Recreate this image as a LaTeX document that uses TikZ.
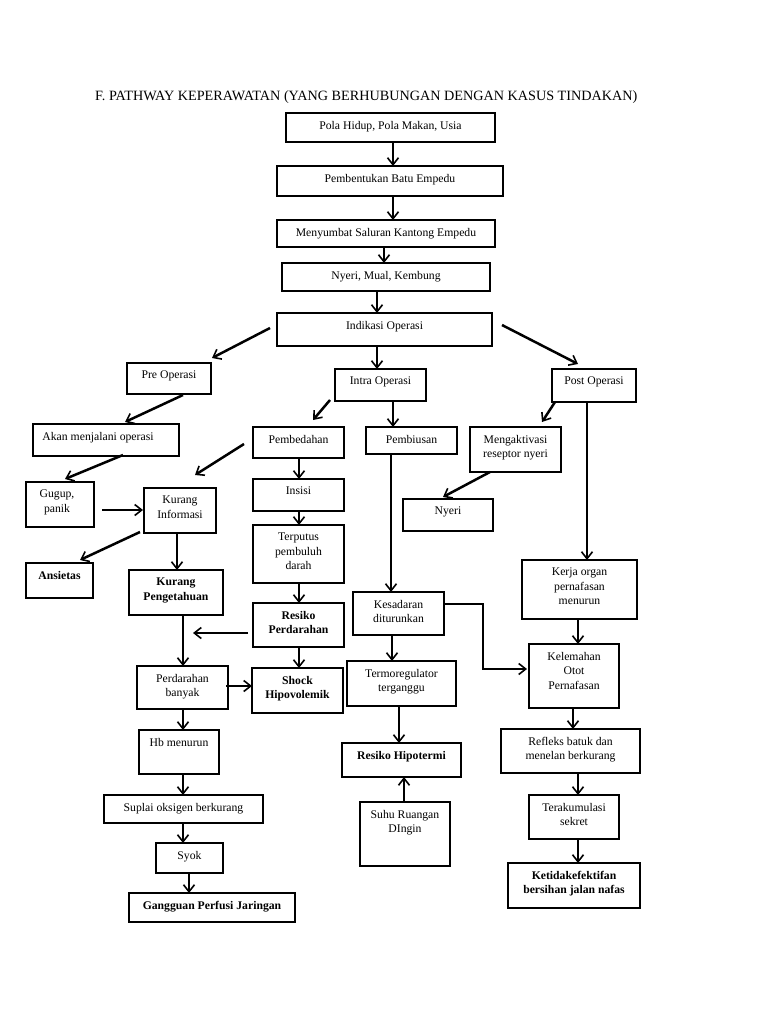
\documentclass[tikz,border=0pt]{standalone}
\usepackage{fontspec}
\setmainfont{Liberation Serif}
\usetikzlibrary{arrows.meta,calc}
\tikzset{
 box/.style={draw, line width=2.7pt, rectangle, inner sep=0pt, outer sep=0pt, anchor=north west},
 txt/.style={anchor=north, align=center, inner sep=0pt, font=\fontsize{11.7}{14.5}\selectfont},
 btxt/.style={txt, font=\fontsize{11.7}{14.5}\selectfont\bfseries},
 arr/.style={line width=2.5pt, -{Straight Barb[length=7pt,width=11pt,line width=1.6pt]}},
}
\newcommand\bx[7][txt]{%
 \node[box, minimum width={(#5-#3)*1pt}, minimum height={(#6-#4)*1pt}] (#2) at (#3,#4) {};
 \node[#1] (#2-t) at ($(#2.north)+(0,8)$) {#7};}
\newcommand\varr[3]{\draw[arr] let \p1=(#1.south), \p2=(#2.north) in (#3pt,\y1) -- (#3pt,\y2);}
\begin{document}
\begin{tikzpicture}[x=1pt,y=-1pt]
\fill[white] (0,0) rectangle (768,1024);
\useasboundingbox (0,0) rectangle (768,1024);
\node[anchor=base west, inner sep=0pt, font=\fontsize{14.2}{16}\selectfont] (title) at (95,101) {F. PATHWAY KEPERAWATAN (YANG BERHUBUNGAN DENGAN KASUS TINDAKAN)};
% boxes
\bx{pola}{286}{113}{495}{142}{Pola Hidup, Pola Makan, Usia}
\bx{pemb}{277}{166}{503}{196}{Pembentukan Batu Empedu}
\bx{meny}{277}{220}{495}{247}{Menyumbat Saluran Kantong Empedu}
\bx{nmk}{282}{263}{490}{291}{Nyeri, Mual, Kembung}
\bx{ind}{277}{313}{492}{346}{Indikasi Operasi}
\bx{pre}{127}{363}{211}{394}{Pre Operasi}
\bx{intra}{335}{369}{426}{401}{Intra Operasi}
\bx{post}{552}{369}{636}{402}{Post Operasi}
\bx[txt,xshift=-8pt]{akan}{33}{424}{179}{456}{Akan menjalani operasi}
\bx[txt,xshift=-3pt]{gugup}{26}{482}{94}{527}{Gugup,\\panik}
\bx{kurinf}{144}{488}{216}{533}{Kurang\\Informasi}
\bx[btxt]{ansietas}{26}{563}{93}{598}{Ansietas}
\bx[btxt]{kurpeng}{129}{570}{223}{615}{Kurang\\Pengetahuan}
\bx{pembedahan}{253}{427}{344}{458}{Pembedahan}
\bx{insisi}{253}{479}{344}{511}{Insisi}
\bx{terputus}{253}{525}{344}{583}{Terputus\\pembuluh\\darah}
\bx[btxt]{resiko}{253}{603}{344}{647}{Resiko\\Perdarahan}
\bx{perdban}{137}{666}{228}{709}{Perdarahan\\banyak}
\bx[btxt]{shock}{252}{668}{343}{713}{Shock\\Hipovolemik}
\bx{hb}{139}{730}{219}{774}{Hb menurun}
\bx{suplai}{104}{795}{263}{823}{Suplai oksigen berkurang}
\bx{syok}{156}{843}{223}{873}{Syok}
\bx[btxt]{gangguan}{129}{893}{295}{922}{Gangguan Perfusi Jaringan}
\bx{pembiusan}{366}{427}{457}{454}{Pembiusan}
\bx{mengakt}{470}{427}{561}{472}{Mengaktivasi\\reseptor nyeri}
\bx{nyeri}{403}{499}{493}{531}{Nyeri}
\bx{kerja}{522}{560}{637}{619}{Kerja organ\\pernafasan\\menurun}
\bx{kesadaran}{353}{592}{444}{635}{Kesadaran\\diturunkan}
\bx{termo}{347}{661}{456}{706}{Termoregulator\\terganggu}
\bx[btxt]{hipotermi}{342}{743}{461}{777}{Resiko Hipotermi}
\bx{suhu}{360}{802}{450}{866}{Suhu Ruangan\\DIngin}
\bx{kelemahan}{529}{644}{619}{708}{Kelemahan\\Otot\\Pernafasan}
\bx{refleks}{501}{729}{640}{773}{Refleks batuk dan\\menelan berkurang}
\bx{terakum}{529}{795}{619}{839}{Terakumulasi\\sekret}
\bx[btxt]{ketidak}{508}{863}{640}{908}{Ketidakefektifan\\bersihan jalan nafas}
% vertical arrows
\varr{pola}{pemb}{393}
\varr{pemb}{meny}{393}
\varr{meny}{nmk}{384}
\varr{nmk}{ind}{377}
\varr{ind}{intra}{377}
\varr{pembedahan}{insisi}{299}
\varr{insisi}{terputus}{299}
\varr{terputus}{resiko}{299}
\varr{kurinf}{kurpeng}{177}
\varr{kurpeng}{perdban}{183}
\varr{resiko}{shock}{299}
\varr{perdban}{hb}{183}
\varr{hb}{suplai}{183}
\varr{suplai}{syok}{183}
\varr{syok}{gangguan}{189}
\varr{intra}{pembiusan}{393}
\varr{pembiusan}{kesadaran}{391}
\varr{post}{kerja}{587}
\varr{kerja}{kelemahan}{578}
\varr{kesadaran}{termo}{392}
\varr{termo}{hipotermi}{399}
\varr{kelemahan}{refleks}{573}
\varr{refleks}{terakum}{578}
\varr{terakum}{ketidak}{578}
\draw[arr] let \p1=(suhu.north), \p2=(hipotermi.south) in (404pt,\y1) -- (404pt,\y2);
% diagonal and other arrows
\draw[arr] ([shift={(-7,-1.5)}]ind.west) -- ([shift={(1,-5)}]pre.north east);
\draw[arr] ([shift={(10,-4.5)}]ind.east) -- ([shift={(-16,-5)}]post.north);
\draw[arr] ([shift={(14,1)}]pre.south) -- ([shift={(19,-2)}]akan.north);
\draw[arr] ([shift={(17,-1)}]akan.south) -- ([shift={(5,-3)}]gugup.north);
\draw[arr] ([shift={(8,5.5)}]gugup.east) -- ([shift={(-1,-0.5)}]kurinf.west);
\draw[arr] ([shift={(-5,-1)}]intra.south west) -- ([shift={(14.5,-7)}]pembedahan.north);
\draw[arr] ([shift={(-9,1.5)}]pembedahan.west) -- ([shift={(15,-13)}]kurinf.north);
\draw[arr] ([shift={(-4,-1)}]kurinf.south west) -- ([shift={(20.5,-3)}]ansietas.north);
\draw[arr] ([shift={(-5,8)}]resiko.west) -- ++(-55,0) coordinate (rfree);
\draw[arr] ([shift={(-2,-1.5)}]perdban.east) -- ([shift={(0,-4.5)}]shock.west);
\draw[arr] ([shift={(3,0)}]post.south west) -- ([shift={(26.5,-5)}]mengakt.north);
\draw[arr] ([shift={(-25.5,0)}]mengakt.south) -- ([shift={(-5,-2)}]nyeri.north);
\draw[arr] ([shift={(0,-9.5)}]kesadaran.east) -- ++(39,0) |- ([shift={(-2,-7)}]kelemahan.west);
\end{tikzpicture}
\end{document}
